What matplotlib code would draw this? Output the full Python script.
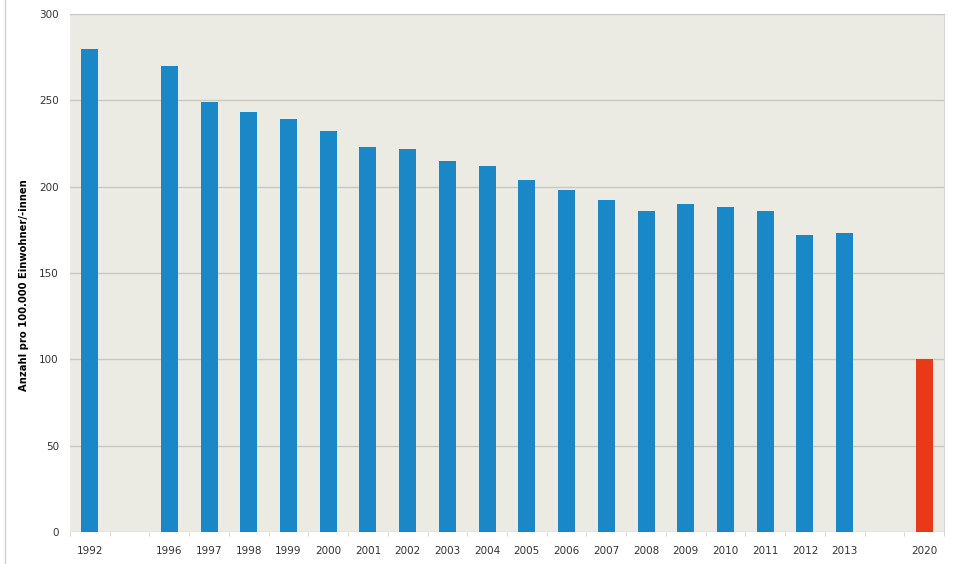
import matplotlib
matplotlib.use("Agg")
import matplotlib.pyplot as plt
import numpy as np

years = ["1992", "", "1996", "1997", "1998", "1999", "2000", "2001", "2002", "2003",
         "2004", "2005", "2006", "2007", "2008", "2009", "2010", "2011", "2012",
         "2013", "", "2020"]
values = [280, np.nan, 270, 249, 243, 239, 232, 223, 222, 215, 212, 204, 198, 192,
          186, 190, 188, 186, 172, 173, np.nan, 100]
colors = ["#1a87c6"] * 21 + ["#e83a18"]

fig = plt.figure(figsize=(9.62, 5.64), dpi=100)
ax = fig.add_axes([70 / 962, 1 - 532 / 564, 874 / 962, 518 / 564])
ax.set_facecolor("#ecebe3")

x = np.arange(len(years))
vals = np.nan_to_num(np.array(values, dtype=float))
ax.bar(x, vals, width=0.43, color=colors, zorder=3)

ax.set_xlim(-0.5, len(years) - 0.5)
ax.set_ylim(0, 300)
ax.set_yticks(np.arange(0, 301, 50))
ax.grid(axis="y", color="#c9c8c0", linewidth=1, zorder=1)
ax.set_xticks(x)
ax.set_xticklabels(years, fontsize=7.5, color="#333333")
ax.set_xticks(np.arange(-0.5, len(years), 1), minor=True)
ax.tick_params(axis="x", which="major", length=0, pad=10)
ax.tick_params(axis="x", which="minor", length=3, color="#cfcfcf")
ax.tick_params(axis="y", length=0, labelsize=7.5, labelcolor="#333333", pad=8)

for s in ["left", "bottom"]:
    ax.spines[s].set_visible(False)
ax.spines["top"].set_color("#c8c8c8")
ax.spines["right"].set_color("#d8d8d8")

ax.set_ylabel("Anzahl pro 100.000 Einwohner/-innen", fontsize=7.2,
              fontweight="bold")
ax.yaxis.set_label_coords(-0.047, 0.477)

fig.add_artist(plt.Line2D([5 / 962, 5 / 962], [0, 1], color="#d0d0d0", linewidth=1))

fig.savefig("out.png", dpi=100)
